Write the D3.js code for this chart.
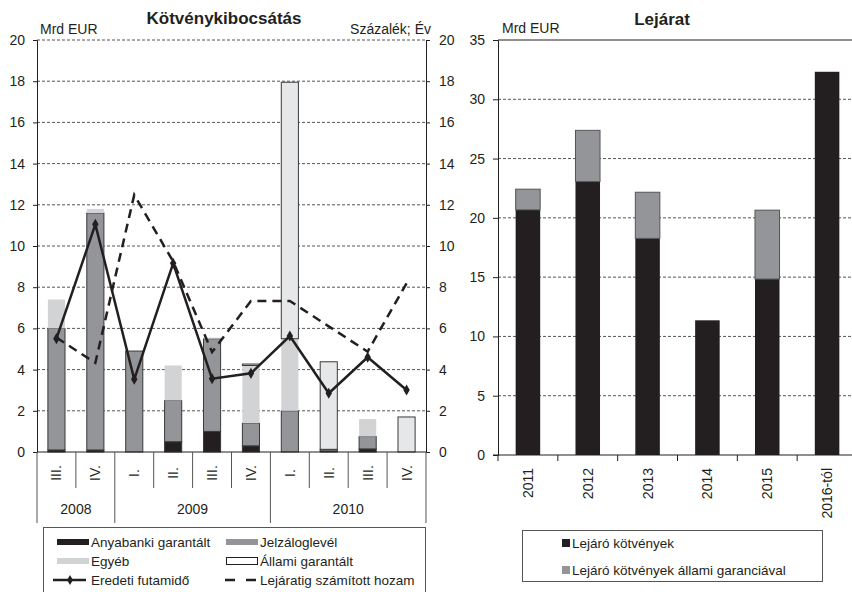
<!DOCTYPE html>
<html>
<head>
<meta charset="utf-8">
<script src="https://cdn.jsdelivr.net/npm/d3@7"></script>
<style>
  body { margin: 0; background: #fff; }
  svg { font-family: "Liberation Sans", Arial, sans-serif; fill: #231f20; }
  .tick text { font-size: 14px; fill: #231f20; }
</style>
</head>
<body>
<svg id="chart" width="852" height="592"></svg>
<script>
// left chart data
const quarters = ["III.", "IV.", "I.", "II.", "III.", "IV.", "I.", "II.", "III.", "IV."];
const years = ["2008", "2009", "2010"];
const yearSpan = [2, 4, 4];
const anyabanki = [0.1, 0.1, 0, 0.5, 1.0, 0.3, 0, 0.05, 0.15, 0];
const jelzalog = [5.9, 11.5, 4.9, 2.0, 4.5, 1.1, 2.0, 0.08, 0.6, 0];
const egyeb = [1.4, 0.2, 0, 1.7, 0.05, 2.8, 3.5, 0, 0.85, 0];
const allami = [0, 0, 0, 0, 0, 0.07, 12.45, 4.25, 0, 1.7];
const futamido = [5.5, 11.05, 3.53, 9.16, 3.56, 3.82, 5.63, 2.85, 4.6, 3.01];
const hozam = [5.55, 4.33, 12.48, 9.25, 4.85, 7.33, 7.33, 6.1, 4.87, 8.19];
const leftTicks = [0, 2, 4, 6, 8, 10, 12, 14, 16, 18, 20];

// right chart data
const lejaratCats = ["2011", "2012", "2013", "2014", "2015", "2016-tól"];
const lejaroKotv = [20.68, 23.06, 18.27, 11.36, 14.84, 32.32];
const lejaroAllami = [1.74, 4.32, 3.89, 0, 5.81, 0];
const rightTicks = [0, 5, 10, 15, 20, 25, 30, 35];

const ink = "#231f20";
const colAny = "#231f20", colJelz = "#939598", colEgyeb = "#d1d3d4", colAllami = "#e6e7e8";

const svg = d3.select("#chart");

// ---------- left chart ----------
const x = d3.scaleBand().domain(d3.range(quarters.length)).range([37, 426])
  .paddingInner(0.56).paddingOuter(0.28);
const y = d3.scaleLinear().domain([0, 20]).range([452, 40]);
const step = x.step();
const x0 = 37;

// grid
svg.append("g").selectAll("line").data(leftTicks.filter(d => d > 0)).join("line")
  .attr("x1", 37).attr("x2", 426)
  .attr("y1", d => y(d)).attr("y2", d => y(d))
  .attr("stroke", "#555").attr("stroke-width", 1).attr("stroke-dasharray", "3,2");

// stacked bars
const series = [
  { vals: anyabanki, fill: colAny, stroke: "#3a3a3a" },
  { vals: jelzalog, fill: colJelz, stroke: "#3a3a3a" },
  { vals: egyeb, fill: colEgyeb, stroke: "none" },
  { vals: allami, fill: colAllami, stroke: "#3a3a3a" }
];
const base = quarters.map(() => 0);
series.forEach(s => {
  const segs = s.vals.map((v, i) => ({ i, y0: base[i], y1: base[i] + v }));
  segs.forEach(d => base[d.i] = d.y1);
  svg.append("g").selectAll("rect").data(segs.filter(d => d.y1 > d.y0)).join("rect")
    .attr("x", d => x(d.i)).attr("width", x.bandwidth())
    .attr("y", d => y(d.y1)).attr("height", d => y(d.y0) - y(d.y1))
    .attr("fill", s.fill).attr("stroke", s.stroke).attr("stroke-width", 1);
});

// lines
const cx = i => x(i) + x.bandwidth() / 2;
svg.append("path")
  .attr("d", d3.line().x((d, i) => cx(i)).y(d => y(d))(hozam))
  .attr("fill", "none").attr("stroke", ink).attr("stroke-width", 2.5)
  .attr("stroke-dasharray", "9,6");
svg.append("path")
  .attr("d", d3.line().x((d, i) => cx(i)).y(d => y(d))(futamido))
  .attr("fill", "none").attr("stroke", ink).attr("stroke-width", 2.5);
svg.append("g").selectAll("path").data(futamido).join("path")
  .attr("transform", (d, i) => `translate(${cx(i)},${y(d)})`)
  .attr("d", d3.symbol(d3.symbolDiamond).size(36))
  .attr("fill", ink);

// axes
svg.append("g").attr("transform", "translate(37,0)")
  .call(d3.axisLeft(y).tickValues(leftTicks).tickSize(4).tickPadding(8))
  .call(g => g.selectAll("line, path").attr("stroke", ink));
svg.append("g").attr("transform", "translate(426,0)")
  .call(d3.axisRight(y).tickValues(leftTicks).tickSize(4).tickPadding(9))
  .call(g => g.selectAll("line, path").attr("stroke", ink));

// category axis
svg.append("line").attr("x1", 37).attr("x2", 426).attr("y1", 452).attr("y2", 452)
  .attr("stroke", ink);
const yearBounds = [0];
yearSpan.forEach(n => yearBounds.push(yearBounds[yearBounds.length - 1] + n));
svg.append("g").selectAll("line").data(d3.range(quarters.length + 1)).join("line")
  .attr("x1", i => x0 + i * step).attr("x2", i => x0 + i * step)
  .attr("y1", 452).attr("y2", i => yearBounds.includes(i) ? 523 : 488)
  .attr("stroke", "#555").attr("stroke-width", 1);
svg.append("g").selectAll("text").data(quarters).join("text")
  .attr("transform", (d, i) => `translate(${cx(i) + 5},473) rotate(-90)`)
  .attr("text-anchor", "middle").attr("font-size", 14).text(d => d);
svg.append("g").selectAll("text").data(years).join("text")
  .attr("x", (d, i) => x0 + (yearBounds[i] + yearBounds[i + 1]) / 2 * step)
  .attr("y", 514).attr("text-anchor", "middle").attr("font-size", 14).text(d => d);

// titles
svg.append("text").attr("x", 224).attr("y", 24).attr("text-anchor", "middle")
  .attr("font-size", 17).attr("font-weight", "bold").text("Kötvénykibocsátás");
svg.append("text").attr("x", 40).attr("y", 34).attr("font-size", 14).text("Mrd EUR");
svg.append("text").attr("x", 431).attr("y", 34).attr("text-anchor", "end")
  .attr("font-size", 14).text("Százalék; Év");

// left legend
const lg = svg.append("g");
lg.append("rect").attr("x", 43.5).attr("y", 527.5).attr("width", 382).attr("height", 80)
  .attr("fill", "none").attr("stroke", "#555");
const legItems = [
  { label: "Anyabanki garantált", type: "rect", fill: colAny, col: 0, row: 0 },
  { label: "Jelzáloglevél", type: "rect", fill: colJelz, col: 1, row: 0 },
  { label: "Egyéb", type: "rect", fill: colEgyeb, col: 0, row: 1 },
  { label: "Állami garantált", type: "box", fill: "#fff", col: 1, row: 1 },
  { label: "Eredeti futamidő", type: "line", col: 0, row: 2 },
  { label: "Lejáratig számított hozam", type: "dash", col: 1, row: 2 }
];
legItems.forEach(d => {
  const sx = d.col === 0 ? 57 : 226;
  const sy = 542 + d.row * 19;
  const g = lg.append("g");
  if (d.type === "rect") {
    g.append("rect").attr("x", sx).attr("y", sy - 3).attr("width", 32).attr("height", 6).attr("fill", d.fill);
  } else if (d.type === "box") {
    g.append("rect").attr("x", sx + 0.5).attr("y", sy - 3.5).attr("width", 31).attr("height", 7)
      .attr("fill", "#fff").attr("stroke", ink);
  } else if (d.type === "line") {
    g.append("line").attr("x1", sx - 4).attr("x2", sx + 29).attr("y1", sy).attr("y2", sy)
      .attr("stroke", ink).attr("stroke-width", 2.5);
    g.append("path").attr("transform", `translate(${sx + 13},${sy})`)
      .attr("d", d3.symbol(d3.symbolDiamond).size(30)).attr("fill", ink);
  } else {
    g.append("line").attr("x1", sx - 1).attr("x2", sx + 31).attr("y1", sy).attr("y2", sy)
      .attr("stroke", ink).attr("stroke-width", 2.5).attr("stroke-dasharray", "10,11");
  }
  g.append("text").attr("x", sx + 34).attr("y", sy + 5).attr("font-size", 13.5).text(d.label);
});

// ---------- right chart ----------
const xr = d3.scaleBand().domain(lejaratCats).range([498, 857])
  .paddingInner(0.59).paddingOuter(0.295);
const yr = d3.scaleLinear().domain([0, 35]).range([455, 40]);

svg.append("g").selectAll("line").data(rightTicks.filter(d => d > 0 && d < 35)).join("line")
  .attr("x1", 498).attr("x2", 852)
  .attr("y1", d => yr(d)).attr("y2", d => yr(d))
  .attr("stroke", "#555").attr("stroke-width", 1).attr("stroke-dasharray", "3,2");
svg.append("line").attr("x1", 498).attr("x2", 852).attr("y1", yr(35)).attr("y2", yr(35))
  .attr("stroke", ink);

svg.append("g").selectAll("rect").data(lejaratCats).join("rect")
  .attr("x", d => xr(d)).attr("width", xr.bandwidth())
  .attr("y", (d, i) => yr(lejaroKotv[i])).attr("height", (d, i) => yr(0) - yr(lejaroKotv[i]))
  .attr("fill", colAny);
svg.append("g").selectAll("rect").data(lejaratCats.filter((d, i) => lejaroAllami[i] > 0)).join("rect")
  .attr("x", d => xr(d)).attr("width", xr.bandwidth())
  .attr("y", d => { const i = lejaratCats.indexOf(d); return yr(lejaroKotv[i] + lejaroAllami[i]); })
  .attr("height", d => { const i = lejaratCats.indexOf(d); return yr(lejaroKotv[i]) - yr(lejaroKotv[i] + lejaroAllami[i]); })
  .attr("fill", colJelz).attr("stroke", "#555").attr("stroke-width", 1);

svg.append("g").attr("transform", "translate(498,0)")
  .call(d3.axisLeft(yr).tickValues(rightTicks).tickSize(5).tickPadding(8))
  .call(g => g.selectAll("line, path").attr("stroke", ink));

svg.append("line").attr("x1", 493).attr("x2", 852).attr("y1", 455).attr("y2", 455).attr("stroke", ink);
svg.append("g").selectAll("line").data(d3.range(lejaratCats.length)).join("line")
  .attr("x1", i => 498 + i * xr.step()).attr("x2", i => 498 + i * xr.step())
  .attr("y1", 455).attr("y2", 461).attr("stroke", ink);
svg.append("g").selectAll("text").data(lejaratCats).join("text")
  .attr("transform", d => `translate(${xr(d) + xr.bandwidth() / 2 + 5},468) rotate(-90)`)
  .attr("text-anchor", "end").attr("font-size", 14).text(d => d);

svg.append("text").attr("x", 662).attr("y", 25).attr("text-anchor", "middle")
  .attr("font-size", 17).attr("font-weight", "bold").text("Lejárat");
svg.append("text").attr("x", 502).attr("y", 33).attr("font-size", 14).text("Mrd EUR");

const rg = svg.append("g");
rg.append("rect").attr("x", 522.5).attr("y", 530.5).attr("width", 300).attr("height", 51)
  .attr("fill", "none").attr("stroke", "#555");
[["Lejáró kötvények", colAny], ["Lejáró kötvények állami garanciával", colJelz]].forEach((d, i) => {
  const sy = 543 + i * 27;
  rg.append("rect").attr("x", 562).attr("y", sy - 4).attr("width", 8).attr("height", 8).attr("fill", d[1]);
  rg.append("text").attr("x", 572).attr("y", sy + 5).attr("font-size", 13.5).text(d[0]);
});
</script>
</body>
</html>
